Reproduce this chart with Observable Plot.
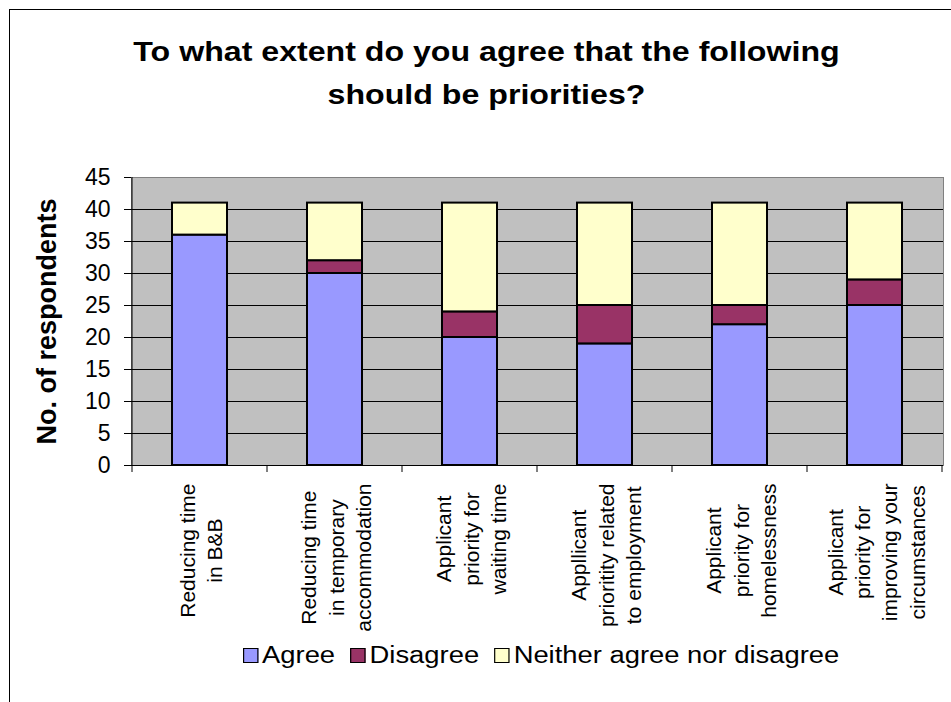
<!DOCTYPE html>
<html>
<head>
<meta charset="utf-8">
<script src="https://cdn.jsdelivr.net/npm/d3@7"></script>
<script src="https://cdn.jsdelivr.net/npm/@observablehq/plot@0.6"></script>
<style>
  body { margin: 0; background: #fff; font-family: "Liberation Sans", Arial, sans-serif; }
  #wrap { position: relative; width: 951px; height: 702px; overflow: hidden; background: #fff; }
  #frame { position: absolute; left: 9px; top: 9px; width: 1200px; height: 1200px; border: 1px solid #000; box-sizing: border-box; }
  #title { position: absolute; left: 11px; top: 31px; width: 951px; text-align: center; font-weight: bold;
           font-size: 27px; line-height: 43px; color: #000; transform: scaleX(1.19); transform-origin: 50% 0; }
  #chart { position: absolute; left: 0; top: 150px; }
  #legend { position: absolute; left: 243px; top: 641px; height: 28px; display: flex; align-items: center;
            font-size: 23px; color: #000; transform: scaleX(1.19); transform-origin: 0 50%; white-space: nowrap; }
  #legend .item { display: flex; align-items: center; margin-right: 13px; }
  #legend .sw { width: 13px; height: 15px; border: 1px solid #000; box-sizing: border-box; margin-right: 3px; }
  g[aria-label="y-axis label"] text { font-weight: bold; font-size: 27px; }
</style>
</head>
<body>
<div id="wrap">
  <div id="frame"></div>
  <div id="title">To what extent do you agree that the following<br>should be priorities?</div>
  <div id="chart"></div>
  <div id="legend"></div>
</div>
<script>
const categories = [
  "Reducing time\nin B&B",
  "Reducing time\nin temporary\naccommodation",
  "Applicant\npriority for\nwaiting time",
  "Appllicant\nprioritity related\nto employment",
  "Applicant\npriority for\nhomelessness",
  "Applicant\npriority for\nimproving your\ncircumstances"
];
const seriesNames = ["Agree", "Disagree", "Neither agree nor disagree"];
const agree    = [36, 30, 20, 19, 22, 25];
const disagree = [0, 2, 4, 6, 3, 4];
const neither  = [5, 9, 17, 16, 16, 12];
const yTicks = [0, 5, 10, 15, 20, 25, 30, 35, 40, 45];
const seriesColors = ["#9999ff", "#993366", "#ffffcc"];

const seriesValues = [agree, disagree, neither];
const rows = [];
categories.forEach((c, i) => {
  seriesNames.forEach((s, j) => rows.push({category: c, series: s, value: seriesValues[j][i]}));
});

function boundaryTicks(index, scales, values, dims) {
  const x = scales.x;
  const bw = x.bandwidth();
  const yb = scales.y(0), yt = scales.y(45);
  const xs = categories.map(c => x(c));
  xs.push(xs[xs.length - 1] + bw);
  const g = d3.create("svg:g").attr("aria-label", "x boundary ticks");
  g.selectAll("line.b").data(xs).join("line")
    .attr("x1", d => d).attr("x2", d => d)
    .attr("y1", yb).attr("y2", yb + 7)
    .attr("stroke", "#000");
  g.append("line")
    .attr("x1", xs[0]).attr("x2", xs[0]).attr("y1", yt).attr("y2", yb)
    .attr("stroke", "#000");
  return g.node();
}

const chart = Plot.plot({
  width: 951,
  height: 500,
  marginTop: 27,
  marginBottom: 185,
  marginLeft: 131,
  marginRight: 8,
  style: { fontFamily: "Liberation Sans, Arial, sans-serif", color: "#000", background: "transparent", overflow: "visible" },
  x: { domain: categories, padding: 0 },
  y: { domain: [0, 45] },
  color: { domain: seriesNames, range: seriesColors },
  marks: [
    Plot.frame({ fill: "#c0c0c0", stroke: "#808080" }),
    Plot.ruleY(yTicks.filter(t => t > 0 && t < 45), { stroke: "#000", strokeWidth: 1 }),
    Plot.barY(rows, {
      x: "category", y: "value", fill: "series", order: seriesNames,
      stroke: "#000", strokeWidth: 2, insetLeft: 40, insetRight: 40
    }),
    Plot.ruleY([0], { stroke: "#000" }),
    Plot.axisY({
      ticks: yTicks, tickSize: 7, tickPadding: 14, fontSize: 23,
      label: "No. of respondents", labelAnchor: "center", labelOffset: 95, labelArrow: "none"
    }),
    Plot.axisX({ tickSize: 0, tickPadding: 18, tickRotate: -90, fontSize: 21, label: null, lineHeight: 1.3 }),
    boundaryTicks
  ]
});
document.getElementById("chart").appendChild(chart);

// center the lines of each multi-line category label within its block
chart.querySelectorAll('g[aria-label="x-axis tick label"] text').forEach(t => {
  const spans = t.querySelectorAll("tspan");
  const parts = spans.length ? Array.from(spans) : [t];
  const maxLen = d3.max(parts, p => p.getComputedTextLength());
  t.setAttribute("text-anchor", "middle");
  parts.forEach(p => p.setAttribute("x", -maxLen / 2));
});

const legend = d3.select("#legend");
seriesNames.forEach((s, i) => {
  const item = legend.append("div").attr("class", "item");
  item.append("div").attr("class", "sw").style("background", seriesColors[i]);
  item.append("span").text(s);
});
</script>
</body>
</html>
